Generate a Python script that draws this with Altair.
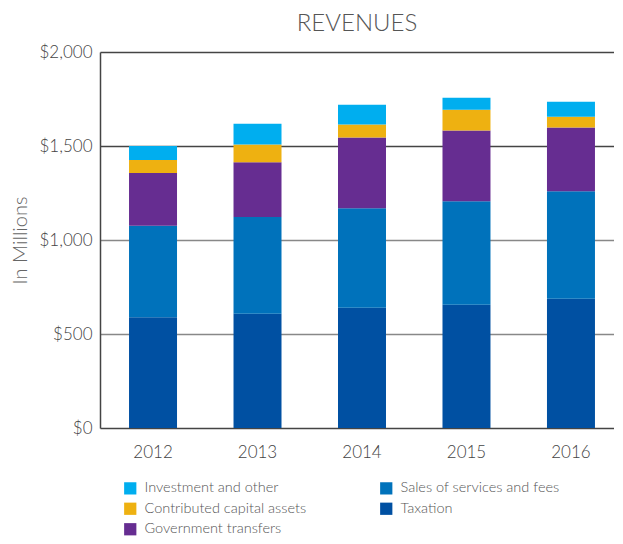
import altair as alt
import pandas as pd

years = ["2012", "2013", "2014", "2015", "2016"]
taxation = [589, 608, 640, 656, 688]
sales = [487, 514, 529, 550, 571]
government = [280, 291, 376, 376, 339]
contributed = [69, 95, 69, 111, 58]
investment = [75, 111, 106, 64, 79]

series = {
    "Taxation": taxation,
    "Sales of services and fees": sales,
    "Government transfers": government,
    "Contributed capital assets": contributed,
    "Investment and other": investment,
}
stack_order = list(series.keys())
legend_order = ["Investment and other", "Contributed capital assets",
                "Government transfers", "Sales of services and fees", "Taxation"]
colors = {
    "Investment and other": "#00AEEF",
    "Contributed capital assets": "#EEB111",
    "Government transfers": "#662D91",
    "Sales of services and fees": "#0072BB",
    "Taxation": "#0050A2",
}

rows = []
for name, vals in series.items():
    for y, v in zip(years, vals):
        rows.append({"Year": y, "Category": name, "Value": v,
                     "order": stack_order.index(name)})
df = pd.DataFrame(rows)

FONT = "Lato"

chart = alt.Chart(df).mark_bar().encode(
    x=alt.X("Year:N", title=None, sort=years,
            scale=alt.Scale(paddingInner=0.5407, paddingOuter=0.23, align=0.604),
            axis=alt.Axis(labelAngle=0, labelFontSize=17, labelColor="#444",
                          labelFont=FONT, labelFontWeight=300, ticks=False,
                          domain=False, grid=False, labelPadding=16)),
    y=alt.Y("Value:Q", stack="zero", title="In Millions",
            scale=alt.Scale(domain=[0, 2000]),
            axis=alt.Axis(values=[0, 500, 1000, 1500, 2000], format="$,d",
                          labelFontSize=17, labelColor="#444", labelFont=FONT,
                          labelFontWeight=300,
                          titleFont=FONT, titleFontSize=20, titleColor="#666",
                          titleFontWeight=300, titlePadding=8,
                          ticks=False, domainColor="#444", domainWidth=1.5,
                          labelPadding=8, grid=True,
                          gridColor={"condition": {"test": "datum.value >= 1500 || datum.value == 0", "value": "#444"}, "value": "#888"},
                          gridWidth=1.5)),
    color=alt.Color("Category:N",
                    scale=alt.Scale(domain=legend_order,
                                    range=[colors[c] for c in legend_order]),
                    legend=alt.Legend(title=None, orient="none", legendX=23, legendY=429,
                                      columns=2, symbolType="square", symbolSize=150,
                                      symbolStrokeWidth=0, labelFontSize=14.5,
                                      labelFont=FONT, labelFontWeight=300,
                                      labelColor="#555", labelLimit=400,
                                      rowPadding=5.5, columnPadding=72, labelOffset=7)),
    order=alt.Order("order:Q", sort="ascending"),
).properties(
    width=514, height=376,
    padding={"left": 2, "top": 4, "right": 0, "bottom": 0},
    title=alt.TitleParams("REVENUES", fontSize=24, font=FONT, fontWeight=300,
                          color="#555", anchor="middle", offset=7),
).configure_view(stroke=None)

chart.save("out.html", embed_options={"renderer": "svg", "actions": False})
